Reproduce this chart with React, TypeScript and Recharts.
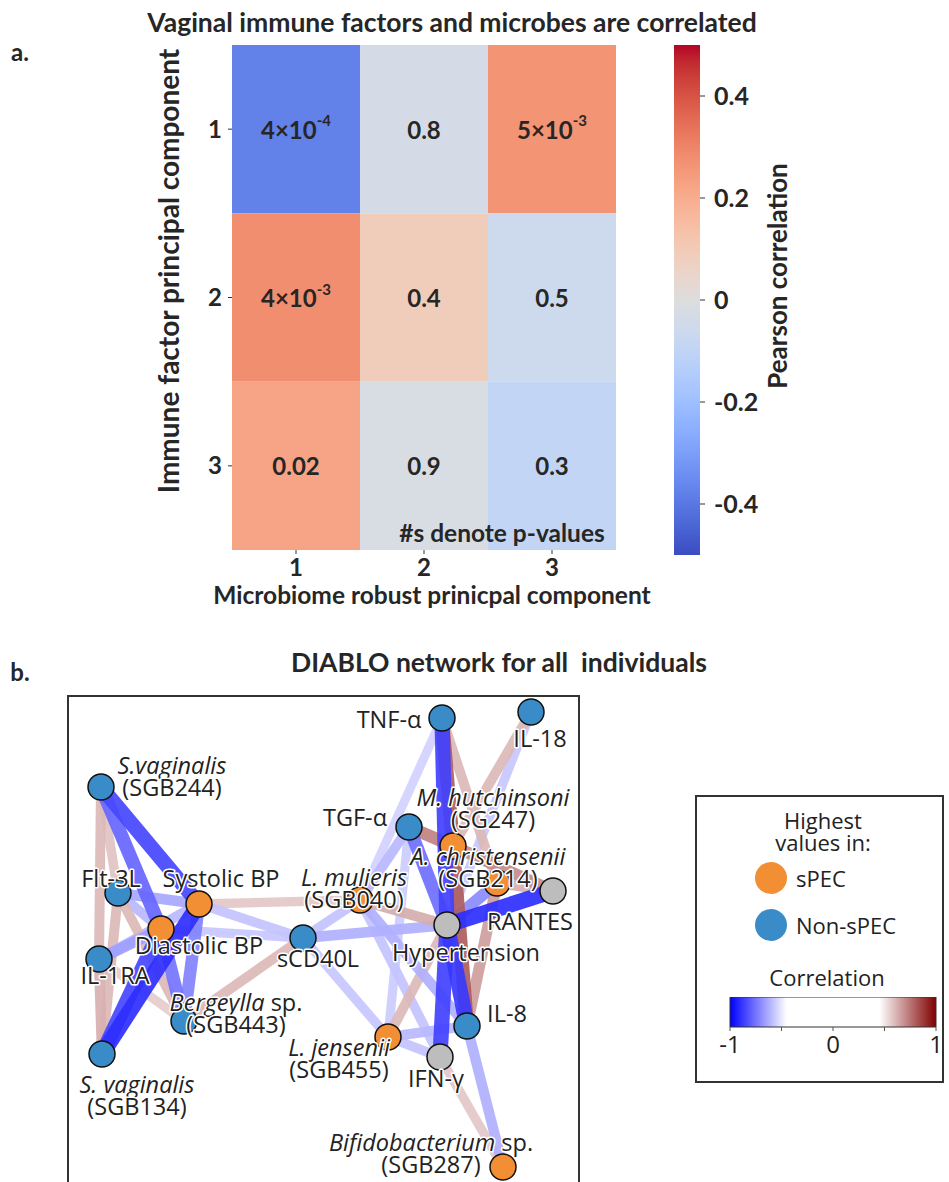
import React from 'react'
import { ScatterChart, Scatter, XAxis, YAxis, ReferenceArea } from 'recharts'

// ---------- panel a: PC correlation heatmap ----------
const pcLabels = ['1', '2', '3']
const pearsonRows = [
  [-0.375, -0.03, 0.265],
  [0.28, 0.09, -0.06],
  [0.225, -0.02, -0.095],
]
const pValueRows = [
  ['4×10^-4', '0.8', '5×10^-3'],
  ['4×10^-3', '0.4', '0.5'],
  ['0.02', '0.9', '0.3'],
]
const colorbarTicks = [-0.4, -0.2, 0, 0.2, 0.4]

// ---------- panel b: DIABLO network ----------
const nodeIds = ['sv244', 'flt3l', 'il1ra', 'sv134', 'dbp', 'sbp', 'berg', 'scd40l', 'lmul', 'tnfa',
  'il18', 'tgfa', 'mhut', 'achr', 'rantes', 'hyper', 'il8', 'ifng', 'ljen', 'bifido']
const nodeLabels = ['*S.vaginalis*\n(SGB244)', 'Flt-3L', 'IL-1RA', '*S. vaginalis*\n(SGB134)', 'Diastolic BP',
  'Systolic BP', '*Bergeylla* sp.\n(SGB443)', 'sCD40L', '*L. mulieris*\n(SGB040)', 'TNF-α', 'IL-18', 'TGF-α',
  '*M. hutchinsoni*\n(SG247)', '*A. christensenii*\n(SGB214)', 'RANTES', 'Hypertension', 'IL-8', 'IFN-γ',
  '*L. jensenii*\n(SGB455)', '*Bifidobacterium* sp.\n(SGB287)']
const nodeGroup = ['Non-sPEC', 'Non-sPEC', 'Non-sPEC', 'Non-sPEC', 'sPEC', 'sPEC', 'Non-sPEC', 'Non-sPEC', 'sPEC',
  'Non-sPEC', 'Non-sPEC', 'Non-sPEC', 'sPEC', 'sPEC', 'none', 'none', 'Non-sPEC', 'none', 'sPEC', 'sPEC']
// layout coordinates of the network
const nodeX = [6.8, 10.2, 6.4, 7.0, 18.8, 26.4, 23.4, 47.2, 58.6, 75.0, 92.8, 68.4, 77.2, 86.0, 97.2, 76.0, 80.0, 74.6, 64.2, 87.2]
const nodeY = [18.4, 39.6, 52.8, 71.8, 46.8, 41.8, 65.2, 48.6, 41.0, 4.6, 3.4, 26.4, 30.2, 37.6, 39.2, 46.0, 66.2, 72.4, 68.4, 94.4]

const edgeFrom = ['sv244', 'sv244', 'sv134', 'sv134', 'berg', 'berg', 'sv244', 'sv244', 'sv134', 'sv134',
  'flt3l', 'flt3l', 'il1ra', 'il1ra', 'flt3l', 'il1ra', 'scd40l', 'scd40l', 'lmul', 'berg',
  'scd40l', 'scd40l', 'scd40l', 'lmul', 'lmul', 'lmul', 'lmul', 'lmul', 'tgfa', 'tnfa',
  'tnfa', 'tnfa', 'il18', 'il18', 'tgfa', 'tgfa', 'mhut', 'achr', 'achr', 'rantes',
  'mhut', 'achr', 'hyper', 'hyper', 'ljen', 'ljen', 'ljen', 'il8', 'ifng']
const edgeTo = ['sbp', 'dbp', 'sbp', 'dbp', 'sbp', 'dbp', 'flt3l', 'il1ra', 'flt3l', 'il1ra',
  'sbp', 'dbp', 'sbp', 'dbp', 'berg', 'berg', 'sbp', 'dbp', 'sbp', 'scd40l',
  'lmul', 'hyper', 'ljen', 'tnfa', 'tgfa', 'hyper', 'il8', 'ifng', 'ljen', 'hyper',
  'mhut', 'achr', 'mhut', 'hyper', 'mhut', 'hyper', 'rantes', 'rantes', 'hyper', 'hyper',
  'il8', 'il8', 'il8', 'ifng', 'hyper', 'il8', 'ifng', 'bifido', 'bifido']
const edgeCorr = [-0.85, -0.78, -0.9, -0.85, -0.72, -0.75, 0.58, 0.6, 0.6, 0.62,
  -0.64, -0.6, -0.6, -0.66, 0.6, 0.56, -0.58, -0.57, 0.57, 0.6,
  -0.58, -0.62, -0.57, -0.55, -0.6, 0.63, -0.62, -0.58, -0.56, -0.86,
  0.8, 0.6, 0.6, -0.57, 0.72, -0.76, 0.7, 0.62, -0.7, -0.9,
  0.8, 0.66, -0.88, -0.86, 0.6, -0.6, -0.58, -0.62, 0.57]

const corrLegendTicks = [-1, -0.5, 0, 0.5, 1]

// where each node's label sits, in px from the node centre
const LABEL_OFFSETS: Record<string, [number, number]> = {
  sv244: [71, -22], flt3l: [-7, -15], il1ra: [16, 16], sv134: [35, 30], dbp: [38, 16],
  sbp: [22, -26], berg: [52, -19], scd40l: [15, 20], lmul: [-6, -23], tnfa: [-53, 1],
  il18: [9, 26], tgfa: [-54, -10], mhut: [40, -49], achr: [-9, -27], rantes: [-23, 30],
  hyper: [19, 27], il8: [40, -13], ifng: [-4, 21], ljen: [-49, 10], bifido: [-72, -25],
}
const LINE_GAP = 22

const GROUP_COLORS: Record<string, string> = { sPEC: '#f28e33', 'Non-sPEC': '#3a8cc8', none: '#bdbdbd' }

// matplotlib coolwarm (Moreland), 33 samples
const COOLWARM = [
  [59, 76, 192], [68, 90, 204], [77, 104, 215], [87, 117, 225], [98, 130, 234], [108, 142, 241],
  [119, 154, 247], [130, 165, 251], [141, 176, 254], [152, 185, 255], [163, 194, 255], [174, 201, 253],
  [184, 208, 249], [194, 213, 244], [204, 217, 238], [213, 219, 230], [221, 221, 221], [229, 216, 209],
  [236, 211, 197], [241, 204, 185], [245, 196, 173], [247, 187, 160], [247, 177, 148], [247, 166, 135],
  [244, 154, 123], [241, 141, 111], [236, 127, 99], [229, 112, 88], [222, 96, 77], [213, 80, 66],
  [203, 62, 56], [192, 40, 47], [180, 4, 38],
]

const coolwarm = (t: number) => {
  const c = Math.max(0, Math.min(1, t)) * (COOLWARM.length - 1)
  const i = Math.min(Math.floor(c), COOLWARM.length - 2)
  const f = c - i
  const a = COOLWARM[i], b = COOLWARM[i + 1]
  const m = (k: number) => Math.round(a[k] + (b[k] - a[k]) * f)
  return `rgb(${m(0)},${m(1)},${m(2)})`
}
const heatColor = (r: number) => coolwarm((r + 0.5) / 1)

// network edge colours: blue (-1) -> white (|r|<0.45) -> dark red (+1)
const edgeColor = (r: number) => {
  const t = Math.max(0, Math.min(1, (Math.abs(r) - 0.45) / 0.55))
  if (r < 0) {
    const v = Math.round(255 * (1 - t))
    return `rgb(${v},${v},255)`
  }
  return `rgb(${Math.round(255 - 127 * t)},${Math.round(255 * (1 - t))},${Math.round(255 * (1 - t))})`
}
const edgeWidth = (r: number) => 8 + 20 * (Math.abs(r) - 0.5)

const HEAT_FONT = { fontFamily: 'Lato', fontWeight: 700, color: '#262626' }
const NET_FONT = 'Open Sans'

const cells = pearsonRows.flatMap((row, ri) =>
  row.map((r, ci) => ({ x: ci + 1, y: ri + 1, r, p: pValueRows[ri][ci] })))

const nodes = nodeIds.map((id, i) => ({
  id, x: nodeX[i], y: nodeY[i], label: nodeLabels[i], group: nodeGroup[i],
}))
const nodeById = Object.fromEntries(nodes.map((n) => [n.id, n]))
const edges = edgeFrom
  .map((f, i) => ({ from: nodeById[f], to: nodeById[edgeTo[i]], r: edgeCorr[i] }))
  .sort((a, b) => Math.abs(a.r) - Math.abs(b.r))

const CellText = (props: any) => {
  const { cx, cy, payload } = props
  const [base, exp] = String(payload.p).split('^')
  return (
    <text x={cx} y={cy} textAnchor="middle" dominantBaseline="central"
      fontFamily="Lato" fontWeight={700} fontSize={24} fill="#262626">
      {base}
      {exp && <tspan dy={-9} fontSize={15}>{exp}</tspan>}
    </text>
  )
}

const NodeDot = (props: any) => {
  const { cx, cy, payload } = props
  return <circle cx={cx} cy={cy} r={13} fill={GROUP_COLORS[payload.group]} stroke="#111" strokeWidth={1.5} />
}

const renderLine = (line: string) =>
  line.split('*').map((seg, i) => (
    <tspan key={i} fontStyle={i % 2 === 1 ? 'italic' : 'normal'}>{seg}</tspan>
  ))

const NodeLabel = (props: any) => {
  const { cx, cy, payload } = props
  const [dx, dy] = LABEL_OFFSETS[payload.id]
  return (
    <g>
      {String(payload.label).split('\n').map((line, i) => (
        <text key={i} x={cx + dx} y={cy + dy + i * LINE_GAP} textAnchor="middle" dominantBaseline="central"
          fontFamily={NET_FONT} fontSize={23.5} fill="#222" stroke="#fff" strokeWidth={3}
          strokeLinejoin="round" paintOrder="stroke">
          {renderLine(line)}
        </text>
      ))}
    </g>
  )
}

const Nothing = () => <g />

const abs = (left: number, top: number, extra: React.CSSProperties = {}): React.CSSProperties => ({
  position: 'absolute', left, top, transform: 'translate(-50%, -50%)', whiteSpace: 'pre', lineHeight: 1, ...extra,
})

export default function App() {
  return (
    <div style={{ position: 'absolute', left: 0, top: 0, width: 949, height: 1182, background: '#fff', overflow: 'hidden' }}>
      <svg width={0} height={0} style={{ position: 'absolute' }}>
        <defs>
          <linearGradient id="coolwarmV" x1="0" y1="1" x2="0" y2="0">
            {COOLWARM.map((_, i) => (
              <stop key={i} offset={i / (COOLWARM.length - 1)} stopColor={coolwarm(i / (COOLWARM.length - 1))} />
            ))}
          </linearGradient>
          <linearGradient id="corrH" x1="0" y1="0" x2="1" y2="0">
            <stop offset={0} stopColor="rgb(0,0,255)" />
            <stop offset={0.275} stopColor="#fff" />
            <stop offset={0.725} stopColor="#fff" />
            <stop offset={1} stopColor="rgb(128,0,0)" />
          </linearGradient>
        </defs>
      </svg>

      {/* panel a */}
      <div style={abs(20, 52, { ...HEAT_FONT, fontSize: 24 })}>a.</div>
      <div style={abs(452, 22, { ...HEAT_FONT, fontSize: 26.5 })}>Vaginal immune factors and microbes are correlated</div>
      <div style={abs(168, 271, { ...HEAT_FONT, fontSize: 28, transform: 'translate(-50%, -50%) rotate(-90deg)' })}>
        Immune factor principal component
      </div>
      <div style={abs(432, 595, { ...HEAT_FONT, fontSize: 24.5 })}>Microbiome robust prinicpal component</div>
      <div style={abs(777, 276, { ...HEAT_FONT, fontSize: 26, transform: 'translate(-50%, -50%) rotate(-90deg)' })}>
        Pearson correlation
      </div>

      <div style={{ position: 'absolute', left: 0, top: 0 }}>
        <ScatterChart width={949} height={620} margin={{ top: 45, right: 333, bottom: 0, left: 192 }}>
          <XAxis type="number" dataKey="x" domain={[0.5, 3.5]} ticks={[1, 2, 3]} height={70}
            tickFormatter={(v) => pcLabels[v - 1]} axisLine={false} tickSize={4} tickMargin={5}
            tickLine={{ stroke: '#333' }} tick={{ fontFamily: 'Lato', fontWeight: 700, fontSize: 24, fill: '#262626' }} />
          <YAxis type="number" dataKey="y" domain={[0.5, 3.5]} reversed ticks={[1, 2, 3]} width={40}
            tickFormatter={(v) => pcLabels[v - 1]} axisLine={false} tickSize={4} tickMargin={6}
            tickLine={{ stroke: '#333' }} tick={{ fontFamily: 'Lato', fontWeight: 700, fontSize: 24, fill: '#262626' }} />
          {cells.map((c) => (
            <ReferenceArea key={`${c.x}-${c.y}`} x1={c.x - 0.5} x2={c.x + 0.5} y1={c.y - 0.5} y2={c.y + 0.5}
              fill={heatColor(c.r)} fillOpacity={1} stroke="none" ifOverflow="visible" />
          ))}
          <Scatter data={cells} shape={CellText} isAnimationActive={false} />
        </ScatterChart>
      </div>
      <div style={abs(502, 533, { ...HEAT_FONT, fontSize: 24.5 })}>#s denote p-values</div>

      <div style={{ position: 'absolute', left: 674, top: 0 }}>
        <ScatterChart width={120} height={620} margin={{ top: 45, right: 0, bottom: 65, left: 0 }}>
          <XAxis type="number" dataKey="x" domain={[0, 1]} hide height={0} />
          <YAxis type="number" dataKey="y" orientation="right" domain={[-0.5, 0.5]} ticks={colorbarTicks}
            width={94} axisLine={false} tickSize={5} tickMargin={9} tickLine={{ stroke: '#333' }}
            tickFormatter={(v) => (v === 0 ? '0' : String(v))}
            tick={{ fontFamily: 'Lato', fontWeight: 700, fontSize: 25, fill: '#262626' }} />
          <ReferenceArea x1={0} x2={1} y1={-0.5} y2={0.5} fill="url(#coolwarmV)" fillOpacity={1}
            stroke="none" ifOverflow="visible" />
          <Scatter data={[{ x: 0.5, y: 0 }]} shape={Nothing} isAnimationActive={false} />
        </ScatterChart>
      </div>

      {/* panel b */}
      <div style={abs(20, 672, { ...HEAT_FONT, fontSize: 24 })}>b.</div>
      <div style={abs(499, 662, { ...HEAT_FONT, fontSize: 26.5 })}>DIABLO network for all  individuals</div>

      <div style={{ position: 'absolute', left: 67, top: 695, width: 513, height: 520, border: '2px solid #333', boxSizing: 'border-box' }} />
      <div style={{ position: 'absolute', left: 67, top: 695 }}>
        <ScatterChart width={513} height={487} margin={{ top: 0, right: 0, bottom: 0, left: 0 }}>
          <XAxis type="number" dataKey="x" domain={[0, 102.6]} hide height={0} />
          <YAxis type="number" dataKey="y" domain={[0, 97.4]} reversed hide width={0} />
          {edges.map((e, i) => (
            <Scatter key={i} data={[{ x: e.from.x, y: e.from.y }, { x: e.to.x, y: e.to.y }]}
              line={{ stroke: edgeColor(e.r), strokeWidth: edgeWidth(e.r), strokeOpacity: 0.92 }}
              shape={Nothing} isAnimationActive={false} />
          ))}
          <Scatter data={nodes} shape={NodeDot} isAnimationActive={false} />
          <Scatter data={nodes} shape={NodeLabel} isAnimationActive={false} />
        </ScatterChart>
      </div>

      {/* legend */}
      <div style={{ position: 'absolute', left: 695, top: 795, width: 249, height: 288, border: '2px solid #333', boxSizing: 'border-box' }} />
      <div style={abs(823, 831, { fontFamily: NET_FONT, fontSize: 22, color: '#222', textAlign: 'center', lineHeight: '22px' })}>
        {'Highest\nvalues in:'}
      </div>
      {[['sPEC', 878], ['Non-sPEC', 925]].map(([g, y]) => (
        <React.Fragment key={g as string}>
          <div style={{ position: 'absolute', left: 755, top: (y as number) - 16, width: 32, height: 32, borderRadius: 16, background: GROUP_COLORS[g as string] }} />
          <div style={{ position: 'absolute', left: 796, top: (y as number) - 13, fontFamily: NET_FONT, fontSize: 22, color: '#222', lineHeight: '26px' }}>{g}</div>
        </React.Fragment>
      ))}
      <div style={abs(827, 977, { fontFamily: NET_FONT, fontSize: 22, color: '#222' })}>Correlation</div>
      <div style={{ position: 'absolute', left: 710, top: 997 }}>
        <ScatterChart width={246} height={70} margin={{ top: 0, right: 20, bottom: 0, left: 20 }}>
          <XAxis type="number" dataKey="x" domain={[-1, 1]} ticks={corrLegendTicks} height={40}
            tickFormatter={(v) => (Math.abs(v) === 0.5 ? '' : String(v))} axisLine={false} tickSize={4}
            tickMargin={5} tickLine={{ stroke: '#555' }} interval={0}
            tick={{ fontFamily: NET_FONT, fontSize: 24, fill: '#222' }} />
          <YAxis type="number" dataKey="y" domain={[0, 1]} hide width={0} />
          <ReferenceArea x1={-1} x2={1} y1={0} y2={1} fill="url(#corrH)" fillOpacity={1}
            stroke="#333" strokeWidth={1} ifOverflow="visible" />
          <Scatter data={[{ x: 0, y: 0.5 }]} shape={Nothing} isAnimationActive={false} />
        </ScatterChart>
      </div>
    </div>
  )
}
